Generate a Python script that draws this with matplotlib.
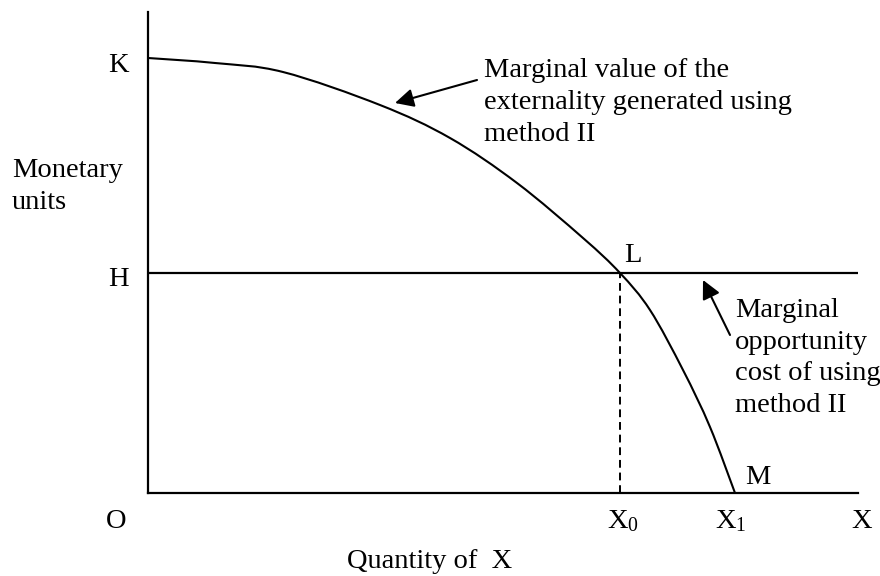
import matplotlib
matplotlib.use("Agg")
import matplotlib.pyplot as plt
from matplotlib.path import Path
from matplotlib.patches import PathPatch

plt.rcParams['font.family'] = ['Liberation Serif', 'DejaVu Serif']
plt.rcParams['mathtext.fontset'] = 'custom'
plt.rcParams['mathtext.rm'] = 'Liberation Serif'
plt.rcParams['mathtext.it'] = 'Liberation Serif:italic'

# Marginal value of the externality curve (K -> L -> M)
curve_x = [0, 6.7, 13.5, 23.2, 30.2, 36.9, 43.5, 47.2, 50.2, 53.5, 56.2, 58.7]
curve_y = [43.5, 43.0, 42.1, 38.8, 35.5, 31.0, 25.5, 22.0, 18.3, 12.3, 6.6, 0.0]
# Marginal opportunity cost (horizontal at H)
H_level = 22.0
X0 = 47.2
X1 = 58.7
x_max = 71.0
y_max = 48.1

FS = 20.5
LS = 1.35

fig = plt.figure(figsize=(8.8, 5.76), dpi=100)
ax = fig.add_axes([148/880, (576-493)/576, 710/880, 481/576])
ax.set_xlim(0, x_max)
ax.set_ylim(0, y_max)
for s in ['top', 'right']:
    ax.spines[s].set_visible(False)
for s in ['left', 'bottom']:
    ax.spines[s].set_linewidth(1.6)
ax.set_xticks([])
ax.set_yticks([])

# smooth curve through the read points (Catmull-Rom as cubic Bezier segments)
pts = list(zip(curve_x, curve_y))
verts = [pts[0]]
codes = [Path.MOVETO]
n = len(pts)
for i in range(n - 1):
    p0 = pts[i - 1] if i > 0 else pts[i]
    p1 = pts[i]
    p2 = pts[i + 1]
    p3 = pts[i + 2] if i + 2 < n else pts[i + 1]
    c1 = (p1[0] + (p2[0] - p0[0]) / 6.0, p1[1] + (p2[1] - p0[1]) / 6.0)
    c2 = (p2[0] - (p3[0] - p1[0]) / 6.0, p2[1] - (p3[1] - p1[1]) / 6.0)
    verts += [c1, c2, p2]
    codes += [Path.CURVE4] * 3
ax.add_patch(PathPatch(Path(verts, codes), facecolor='none', edgecolor='black', lw=1.5))

ax.plot([0, x_max], [H_level, H_level], color='black', lw=1.6)
ax.plot([X0, X0], [0, H_level], color='black', lw=1.4, linestyle=(0, (4, 2.5)))

kw = dict(fontsize=FS, clip_on=False, color='black')
ax.text(-3.0, 42.1, 'K', ha='center', va='baseline', **kw)
ax.text(-3.0, 20.7, 'H', ha='center', va='baseline', **kw)
ax.text(-3.2, -2.8, 'O', ha='center', va='center', **kw)
ax.text(X0 + 0.3, -2.8, r'X$_\mathregular{0}$', ha='center', va='center', **kw)
ax.text(X1 - 0.4, -2.8, r'X$_\mathregular{1}$', ha='center', va='center', **kw)
ax.text(71.4, -2.8, 'X', ha='center', va='center', **kw)
ax.text(28.2, -6.9, 'Quantity of  X', ha='center', va='center', **kw)
ax.text(-13.6, 33.5, 'Monetary\nunits', ha='left', va='top', linespacing=LS, **kw)
ax.text(48.5, 23.8, 'L', ha='center', va='center', **kw)
ax.text(61.0, 1.6, 'M', ha='center', va='center', **kw)

ax.text(33.6, 43.46, 'Marginal value of the\nexternality generated using\nmethod II',
        ha='left', va='top', linespacing=LS, **kw)
ax.annotate('', xy=(24.7, 39.0), xytext=(32.9, 41.3),
            arrowprops=dict(arrowstyle='-|>', mutation_scale=28, lw=1.5, color='black',
                            shrinkA=0, shrinkB=0), annotation_clip=False)

ax.text(58.7, 19.5, 'Marginal\nopportunity\ncost of using\nmethod II',
        ha='left', va='top', linespacing=LS, **kw)
ax.annotate('', xy=(55.5, 21.3), xytext=(58.2, 15.8),
            arrowprops=dict(arrowstyle='-|>', mutation_scale=28, lw=1.5, color='black',
                            shrinkA=0, shrinkB=0), annotation_clip=False)

fig.savefig('out.png', dpi=100)
